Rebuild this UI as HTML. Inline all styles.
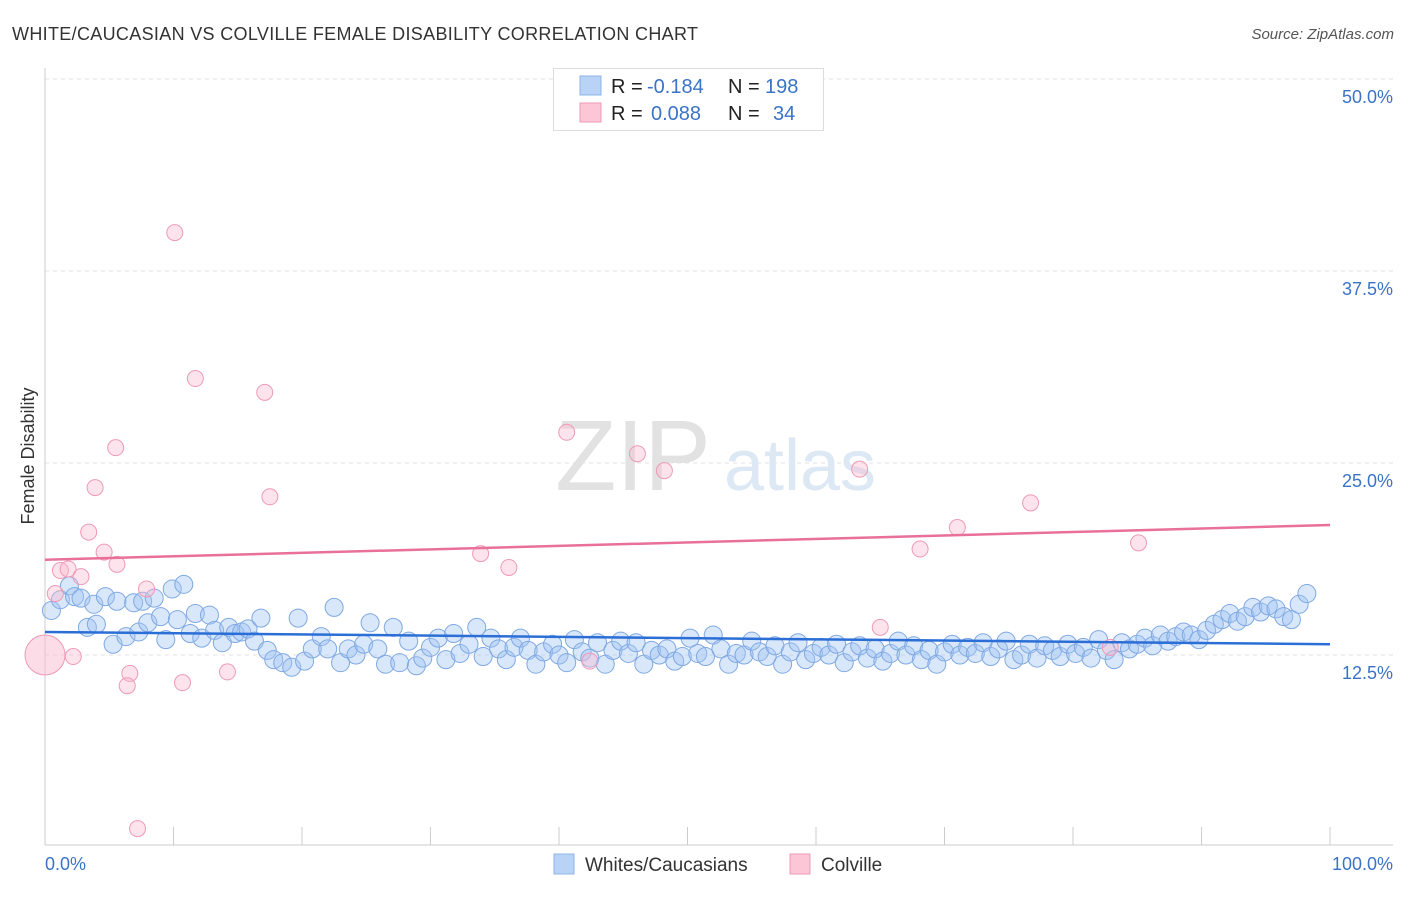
<!DOCTYPE html>
<html><head><meta charset="utf-8"><style>
body{margin:0;background:#fff;font-family:"Liberation Sans",sans-serif;}
svg text{font-family:"Liberation Sans",sans-serif;}
</style></head><body>
<svg id="chart" width="1406" height="892" xmlns="http://www.w3.org/2000/svg">
<text x="12" y="40" font-size="18" fill="#333" textLength="686" lengthAdjust="spacing">WHITE/CAUCASIAN VS COLVILLE FEMALE DISABILITY CORRELATION CHART</text>
<text x="1394" y="39" font-size="15" fill="#555" text-anchor="end" font-style="italic">Source: ZipAtlas.com</text>
<g id="grid"></g>
<text x="633" y="490" font-size="100" fill="#e2e2e2" text-anchor="middle" font-family="Liberation Serif">ZIP</text>
<text x="800" y="490" font-size="72" fill="#dde8f5" text-anchor="middle">atlas</text>
<g id="axes"></g>
<g id="marks"></g>
<text transform="translate(34,456) rotate(-90)" font-size="18" fill="#333" text-anchor="middle">Female Disability</text>
<g>
<rect x="553.5" y="68.5" width="270" height="62" fill="#fff" stroke="#ddd"/>
<rect x="580" y="76" width="21" height="19" fill="#b8d3f5" stroke="#8cb4e8"/>
<rect x="580" y="103" width="21" height="19" fill="#fcc6d6" stroke="#f09ab5"/>
<text x="611" y="93" font-size="20" fill="#222">R =</text>
<text x="647" y="93" font-size="20" fill="#3b73c7">-0.184</text>
<text x="728" y="93" font-size="20" fill="#222">N =</text>
<text x="765" y="93" font-size="20" fill="#3b73c7">198</text>
<text x="611" y="120" font-size="20" fill="#222">R =</text>
<text x="651" y="120" font-size="20" fill="#3b73c7">0.088</text>
<text x="728" y="120" font-size="20" fill="#222">N =</text>
<text x="773" y="120" font-size="20" fill="#3b73c7">34</text>
</g>
<g>
<rect x="554" y="854" width="20" height="20" fill="#b8d3f5" stroke="#8cb4e8"/>
<text x="585" y="871" font-size="19" fill="#333">Whites/Caucasians</text>
<rect x="790" y="854" width="20" height="20" fill="#fcc6d6" stroke="#f09ab5"/>
<text x="821" y="871" font-size="19" fill="#333">Colville</text>
</g>
</svg>
<script>
const yTicks=[12.5,25,37.5,50];
const yTickLabels=["12.5%","25.0%","37.5%","50.0%"];
const xTickLabels=["0.0%","100.0%"];
const blueX=[0.5,1.2,1.9,2.3,2.8,3.3,3.8,4.0,4.7,5.3,5.6,6.3,6.9,7.3,7.6,8.0,8.5,9.0,9.4,9.9,10.3,10.8,11.3,11.7,12.2,12.8,13.2,13.8,14.3,14.8,15.3,15.8,16.3,16.8,17.3,17.8,18.5,19.2,19.7,20.2,20.8,21.5,22.0,22.5,23.0,23.6,24.2,24.8,25.3,25.9,26.5,27.1,27.6,28.3,28.9,29.4,30.0,30.6,31.2,31.8,32.3,33.0,33.6,34.1,34.7,35.3,35.9,36.5,37.0,37.6,38.2,38.8,39.5,40.0,40.6,41.2,41.8,42.4,43.0,43.6,44.2,44.8,45.4,46.0,46.6,47.2,47.8,48.4,49.0,49.6,50.2,50.8,51.4,52.0,52.6,53.2,53.8,54.4,55.0,55.6,56.2,56.8,57.4,58.0,58.6,59.2,59.8,60.4,61.0,61.6,62.2,62.8,63.4,64.0,64.6,65.2,65.8,66.4,67.0,67.6,68.2,68.8,69.4,70.0,70.6,71.2,71.8,72.4,73.0,73.6,74.2,74.8,75.4,76.0,76.6,77.2,77.8,78.4,79.0,79.6,80.2,80.8,81.4,82.0,82.6,83.2,83.8,84.4,85.0,85.6,86.2,86.8,87.4,88.0,88.6,89.2,89.8,90.4,91.0,91.6,92.2,92.8,93.4,94.0,94.6,95.2,95.8,96.4,97.0,97.6,98.2];
const blueY=[15.4,16.1,17.0,16.3,16.2,14.3,15.8,14.5,16.3,13.2,16.0,13.7,15.9,14.0,16.0,14.6,16.2,15.0,13.5,16.8,14.8,17.1,13.9,15.2,13.6,15.1,14.1,13.3,14.3,13.9,14.0,14.2,13.4,14.9,12.8,12.2,12.0,11.7,14.9,12.1,12.9,13.7,12.9,15.6,12.0,12.9,12.5,13.2,14.6,12.9,11.9,14.3,12.0,13.4,11.8,12.3,13.0,13.6,12.2,13.9,12.6,13.2,14.3,12.4,13.6,12.9,12.2,13.0,13.6,12.8,11.9,12.7,13.2,12.5,12.0,13.5,12.7,12.3,13.3,11.9,12.8,13.4,12.6,13.3,11.9,12.8,12.5,12.9,12.1,12.4,13.6,12.6,12.4,13.8,12.9,11.9,12.6,12.5,13.4,12.7,12.4,13.1,11.9,12.7,13.3,12.2,12.6,13.0,12.5,13.2,12.0,12.7,13.1,12.3,12.9,12.1,12.6,13.4,12.5,13.1,12.2,12.8,11.9,12.7,13.2,12.5,13.0,12.6,13.3,12.4,12.9,13.4,12.2,12.5,13.2,12.3,13.1,12.8,12.4,13.2,12.6,13.0,12.3,13.5,12.8,12.2,13.3,12.9,13.2,13.6,13.1,13.8,13.4,13.7,14.0,13.8,13.5,14.1,14.5,14.8,15.2,14.7,15.0,15.6,15.3,15.7,15.5,15.0,14.8,15.8,16.5];
const pinkX=[10.1,11.7,17.1,5.5,3.9,17.5,3.4,4.6,5.6,1.2,1.8,2.8,0.8,7.9,2.2,6.6,6.4,10.7,14.2,7.2,40.6,46.1,48.2,63.4,76.7,71.0,68.1,33.9,36.1,85.1,65.0,42.4,82.9];
const pinkY=[40.0,30.5,29.6,26.0,23.4,22.8,20.5,19.2,18.4,18.0,18.1,17.6,16.5,16.8,12.4,11.3,10.5,10.7,11.4,1.2,27.0,25.6,24.5,24.6,22.4,20.8,19.4,19.1,18.2,19.8,14.3,12.1,13.0];
const bigPink=[0,12.5];
const blueTrend=[14.0,13.2];
const pinkTrend=[18.7,20.96];
const NS="http://www.w3.org/2000/svg";
const X=v=>45+v*12.85, Y=v=>847-v*15.36;
function mk(tag,attrs,parent){const e=document.createElementNS(NS,tag);for(const k in attrs)e.setAttribute(k,attrs[k]);parent.appendChild(e);return e;}
const grid=document.getElementById('grid'),axes=document.getElementById('axes'),marks=document.getElementById('marks');
yTicks.forEach((t,i)=>{
 const l=mk('line',{x1:45,x2:1393,y1:Y(t),y2:Y(t),stroke:'#e3e3e3','stroke-dasharray':'4,4'},grid);
 
 
 const tx=mk('text',{x:1393,y:Y(t)+24,'font-size':18,fill:'#3b73c7','text-anchor':'end'},axes);
 tx.textContent=yTickLabels[i];
 
 
});
const ya=mk('line',{x1:45,x2:45,y1:68,y2:845,stroke:'#ccc'},axes);


const xa=mk('line',{x1:45,x2:1393,y1:845,y2:845,stroke:'#ccc'},axes);


for(let i=0;i<=10;i++){const t=mk('line',{x1:X(i*10),x2:X(i*10),y1:827,y2:845,stroke:'#ccc'},axes);
 
 }
[[0,'start',45],[1,'end',1393]].forEach(([i,a,x])=>{const t=mk('text',{x:x,y:870,'font-size':18,fill:'#3b73c7','text-anchor':a},axes);t.textContent=xTickLabels[i];
 
 });
const n=Math.min(blueX.length,blueY.length);
for(let i=0;i<n;i++){const c=mk('circle',{cx:X(blueX[i]),cy:Y(blueY[i]),r:9,fill:'rgba(160,196,242,0.4)',stroke:'#7fa9e3','stroke-width':1},marks);
 
 }
for(let i=0;i<pinkX.length;i++){const c=mk('circle',{cx:X(pinkX[i]),cy:Y(pinkY[i]),r:8,fill:'rgba(250,185,205,0.4)',stroke:'#ef9ab6','stroke-width':1},marks);
 
 }
const bp=mk('circle',{cx:X(bigPink[0]),cy:Y(bigPink[1]),r:20,fill:'rgba(250,185,205,0.5)',stroke:'#ef9ab6'},marks);


const bt=mk('line',{x1:X(0),x2:X(100),y1:Y(blueTrend[0]),y2:Y(blueTrend[1]),stroke:'#2b6fd6','stroke-width':2.5},marks);


const pt=mk('line',{x1:X(0),x2:X(100),y1:Y(pinkTrend[0]),y2:Y(pinkTrend[1]),stroke:'#e8709a','stroke-width':2.5},marks);


</script>
</body></html>
